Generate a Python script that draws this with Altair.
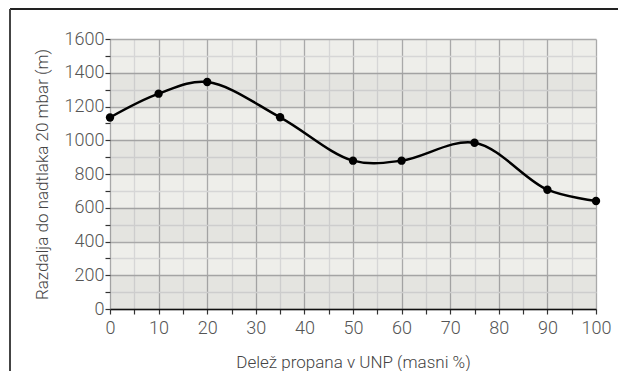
import altair as alt
import pandas as pd

# data
propane_share = [0, 10, 20, 35, 50, 60, 75, 90, 100]
distance_m = [1135, 1276, 1345, 1136, 879, 879, 985, 707, 640]

band_lo = [0, 400, 800, 1200]
band_hi = [200, 600, 1000, 1400]

x_ticks = list(range(0, 101, 5))
y_ticks = list(range(0, 1601, 100))

df = pd.DataFrame({"x": propane_share, "y": distance_m})
bands = pd.DataFrame({"lo": band_lo, "hi": band_hi})

FONT = "Roboto"
W, H = 486, 270

xscale = alt.Scale(domain=[0, 100], nice=False, zero=False)
yscale = alt.Scale(domain=[0, 1600], nice=False)

x_axis = alt.Axis(
    values=x_ticks,
    labelExpr="datum.value % 10 === 0 ? datum.value : ''",
    title="Delež propana v UNP  (masni %)",
    grid=True,
    gridColor={"condition": {"test": "datum.value % 10 === 0", "value": "#a9a9a9"}, "value": "#d6d6d6"},
    gridWidth=1.3,
    domainColor="#111111",
    domainWidth=1.5,
    tickColor="#333333",
    tickSize=5,
    tickWidth=1.2,
    labelFont=FONT,
    labelFontSize=18,
    labelFontWeight=300,
    labelColor="#555555",
    labelPadding=5,
    labelFlush=False,
    titleFont=FONT,
    titleFontSize=17,
    titleFontWeight=300,
    titleColor="#444444",
    titlePadding=17,
)

y_axis = alt.Axis(
    values=y_ticks,
    labelExpr="datum.value % 200 === 0 ? datum.value : ''",
    title="Razdalja do nadtlaka  20 mbar (m)",
    grid=True,
    gridColor={"condition": {"test": "datum.value % 200 === 0", "value": "#a9a9a9"}, "value": "#d6d6d6"},
    gridWidth=1.3,
    domain=False,
    tickColor="#333333",
    tickSize=5,
    tickWidth=1.2,
    labelFont=FONT,
    labelFontSize=18,
    labelFontWeight=300,
    labelColor="#555555",
    labelPadding=1,
    labelFlush=False,
    titleFont=FONT,
    titleFontSize=17,
    titleFontWeight=300,
    titleColor="#444444",
    titlePadding=13,
)

band_layer = alt.Chart(bands).mark_rect(fill="#000000", fillOpacity=0.04).encode(
    y=alt.Y("lo:Q", scale=yscale, axis=y_axis),
    y2="hi:Q",
    x=alt.value(0),
    x2=alt.value(W),
)

base = alt.Chart(df).encode(
    x=alt.X("x:Q", scale=xscale, axis=x_axis),
    y=alt.Y("y:Q", scale=yscale, axis=y_axis),
)

line = base.mark_line(color="#000000", strokeWidth=2.5, interpolate="catmull-rom")
points = base.mark_circle(color="#000000", opacity=1, size=70)

frame_top = alt.Chart(df).mark_rule(color="#222222", strokeWidth=2).encode(
    x=alt.value(-100), x2=alt.value(530), y=alt.value(-30)
)
frame_left = alt.Chart(df).mark_rule(color="#444444", strokeWidth=2).encode(
    x=alt.value(-100), y=alt.value(-30), y2=alt.value(345)
)

chart = alt.layer(band_layer, line, points, frame_top, frame_left).properties(
    width=W,
    height=H,
    autosize="none",
    padding={"left": 102, "top": 31, "right": 22, "bottom": 62},
    background="white",
).configure_view(
    stroke=None,
    fill="#eeeeea",
)

chart.save("out.html", embed_options={"renderer": "svg", "actions": False})
